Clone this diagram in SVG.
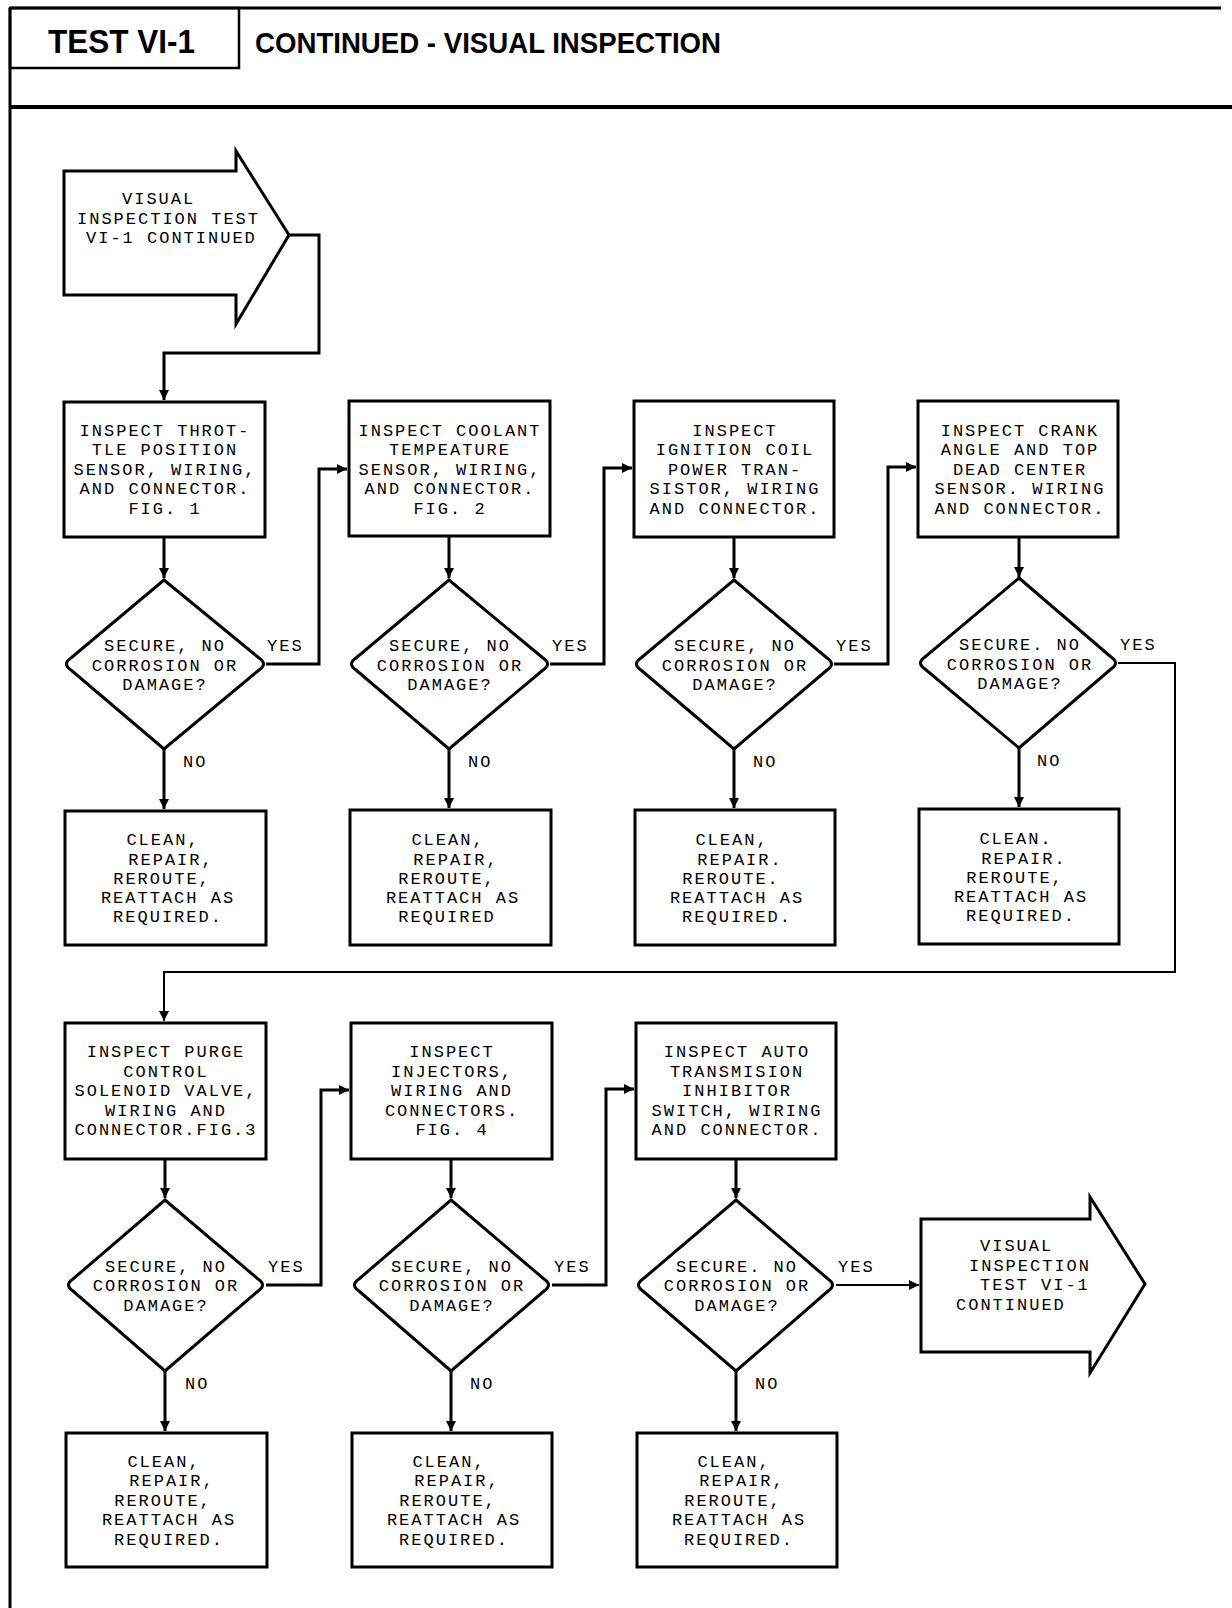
<svg xmlns="http://www.w3.org/2000/svg" width="1232" height="1608" viewBox="0 0 1232 1608">
<defs>
<style>
.bx{fill:#fff;stroke:#000;stroke-width:3}
.ln{fill:none;stroke:#000;stroke-width:3}
.thin{fill:none;stroke:#000;stroke-width:2}
.t{font-family:"Liberation Mono","DejaVu Sans Mono",monospace;font-size:17px;letter-spacing:2px;fill:#000;text-anchor:middle}
.ts{font-family:"Liberation Mono","DejaVu Sans Mono",monospace;font-size:17px;letter-spacing:2px;fill:#000}
.h{font-family:"Liberation Sans",Arial,sans-serif;font-weight:bold;fill:#000}
</style>
<marker id="ah" markerUnits="userSpaceOnUse" markerWidth="10" markerHeight="10" refX="10" refY="5" orient="auto">
<path d="M0,0 L10,5 L0,10 z" fill="#000"/>
</marker>
</defs>
<rect width="1232" height="1608" fill="#fff"/>

<g id="header">
<line x1="10" y1="8" x2="1221" y2="8" class="ln"/>
<line x1="10" y1="8" x2="10" y2="1608" class="ln"/>
<line x1="10" y1="107" x2="1232" y2="107" class="ln" style="stroke-width:4"/>
<rect x="10" y="8" width="229" height="60" fill="none" stroke="#000" stroke-width="2.5"/>
<text x="48" y="53" class="h" font-size="34" textLength="147" lengthAdjust="spacingAndGlyphs">TEST VI-1</text>
<text x="255" y="53" class="h" font-size="30" textLength="466" lengthAdjust="spacingAndGlyphs">CONTINUED - VISUAL INSPECTION</text>
</g>

<g id="connectors">
<path d="M289,235 H319 V353 H164 V400" class="ln" marker-end="url(#ah)"/>
<path d="M164,537 V578" class="ln" marker-end="url(#ah)"/>
<path d="M449,537 V578" class="ln" marker-end="url(#ah)"/>
<path d="M734,537 V578" class="ln" marker-end="url(#ah)"/>
<path d="M1019,537 V577" class="ln" marker-end="url(#ah)"/>
<path d="M164,749 V809" class="ln" marker-end="url(#ah)"/>
<path d="M449,749 V808" class="ln" marker-end="url(#ah)"/>
<path d="M734,749 V808" class="ln" marker-end="url(#ah)"/>
<path d="M1019,748 V807" class="ln" marker-end="url(#ah)"/>
<path d="M266,664 H319 V469 H347" class="ln" marker-end="url(#ah)"/>
<path d="M550,664 H604 V468 H632" class="ln" marker-end="url(#ah)"/>
<path d="M834,664 H888 V467 H916" class="ln" marker-end="url(#ah)"/>
<path d="M1118,663 H1175 V972 H164 V1021" class="thin" marker-end="url(#ah)"/>
<path d="M165,1159 V1198" class="ln" marker-end="url(#ah)"/>
<path d="M451,1159 V1198" class="ln" marker-end="url(#ah)"/>
<path d="M736,1159 V1198" class="ln" marker-end="url(#ah)"/>
<path d="M165,1371 V1431" class="ln" marker-end="url(#ah)"/>
<path d="M451,1371 V1431" class="ln" marker-end="url(#ah)"/>
<path d="M736,1371 V1431" class="ln" marker-end="url(#ah)"/>
<path d="M266,1285 H321 V1090 H349" class="ln" marker-end="url(#ah)"/>
<path d="M552,1285 H606 V1089 H634" class="ln" marker-end="url(#ah)"/>
<path d="M836,1285 H919" class="thin" marker-end="url(#ah)"/>
</g>

<g id="start">
<path d="M64,171 H236 V151 L289,235 L236,324 V295 H64 Z" class="bx"/>
<text class="ts" y="204" x="122">VISUAL</text>
<text class="ts" y="224" x="77">INSPECTION TEST</text>
<text class="ts" y="243" x="86">VI-1 CONTINUED</text>
</g>

<g id="box1">
<rect x="64" y="402" width="201" height="135" class="bx"/>
<text class="t" x="165" y="436">INSPECT THROT-</text>
<text class="t" x="165" y="455">TLE POSITION</text>
<text class="t" x="165" y="475">SENSOR, WIRING,</text>
<text class="t" x="165" y="494">AND CONNECTOR.</text>
<text class="t" x="165" y="514">FIG. 1</text>
</g>
<g id="box2">
<rect x="349" y="401" width="201" height="135" class="bx"/>
<text class="t" x="450" y="436">INSPECT COOLANT</text>
<text class="t" x="450" y="455">TEMPEATURE</text>
<text class="t" x="450" y="475">SENSOR, WIRING,</text>
<text class="t" x="450" y="494">AND CONNECTOR.</text>
<text class="t" x="450" y="514">FIG. 2</text>
</g>
<g id="box3">
<rect x="634" y="401" width="200" height="136" class="bx"/>
<text class="t" x="735" y="436">INSPECT</text>
<text class="t" x="735" y="455">IGNITION COIL</text>
<text class="t" x="735" y="475">POWER TRAN-</text>
<text class="t" x="735" y="494">SISTOR, WIRING</text>
<text class="t" x="735" y="514">AND CONNECTOR.</text>
</g>
<g id="box4">
<rect x="918" y="401" width="200" height="136" class="bx"/>
<text class="t" x="1020" y="436">INSPECT CRANK</text>
<text class="t" x="1020" y="455">ANGLE AND TOP</text>
<text class="t" x="1020" y="475">DEAD CENTER</text>
<text class="t" x="1020" y="494">SENSOR. WIRING</text>
<text class="t" x="1020" y="514">AND CONNECTOR.</text>
</g>

<g id="dec1">
<path d="M164,580 L259,658 Q268,664 259,670 L164,749 L71,670 Q62,664 71,658 Z" class="bx"/>
<text class="t" x="165" y="651">SECURE, NO</text>
<text class="t" x="165" y="671">CORROSION OR</text>
<text class="t" x="165" y="690">DAMAGE?</text>
</g>
<g id="dec2">
<path d="M449,580 L543,658 Q552,664 543,670 L449,749 L356,670 Q347,664 356,658 Z" class="bx"/>
<text class="t" x="450" y="651">SECURE, NO</text>
<text class="t" x="450" y="671">CORROSION OR</text>
<text class="t" x="450" y="690">DAMAGE?</text>
</g>
<g id="dec3">
<path d="M734,580 L827,658 Q836,664 827,670 L734,749 L641,670 Q632,664 641,658 Z" class="bx"/>
<text class="t" x="735" y="651">SECURE, NO</text>
<text class="t" x="735" y="671">CORROSION OR</text>
<text class="t" x="735" y="690">DAMAGE?</text>
</g>
<g id="dec4">
<path d="M1019,578 L1111,657 Q1120,663 1111,669 L1019,748 L925,669 Q916,663 925,657 Z" class="bx"/>
<text class="t" x="1020" y="650">SECURE. NO</text>
<text class="t" x="1020" y="670">CORROSION OR</text>
<text class="t" x="1020" y="689">DAMAGE?</text>
</g>

<g id="labels1">
<text class="ts" x="267" y="651">YES</text>
<text class="ts" x="552" y="651">YES</text>
<text class="ts" x="836" y="651">YES</text>
<text class="ts" x="1120" y="650">YES</text>
<text class="ts" x="183" y="767">NO</text>
<text class="ts" x="468" y="767">NO</text>
<text class="ts" x="753" y="767">NO</text>
<text class="ts" x="1037" y="766">NO</text>
</g>

<g id="fix1">
<rect x="65" y="811" width="201" height="134" class="bx"/>
<text class="t" x="163" y="845">CLEAN,</text>
<text class="t" x="171" y="865">REPAIR,</text>
<text class="t" x="162" y="884">REROUTE,</text>
<text class="t" x="168" y="903">REATTACH AS</text>
<text class="t" x="168" y="922">REQUIRED.</text>
</g>
<g id="fix2">
<rect x="350" y="810" width="201" height="135" class="bx"/>
<text class="t" x="448" y="845">CLEAN,</text>
<text class="t" x="456" y="865">REPAIR,</text>
<text class="t" x="447" y="884">REROUTE,</text>
<text class="t" x="453" y="903">REATTACH AS</text>
<text class="t" x="447" y="922">REQUIRED</text>
</g>
<g id="fix3">
<rect x="635" y="810" width="200" height="135" class="bx"/>
<text class="t" x="732" y="845">CLEAN,</text>
<text class="t" x="740" y="865">REPAIR.</text>
<text class="t" x="731" y="884">REROUTE.</text>
<text class="t" x="737" y="903">REATTACH AS</text>
<text class="t" x="737" y="922">REQUIRED.</text>
</g>
<g id="fix4">
<rect x="919" y="809" width="200" height="135" class="bx"/>
<text class="t" x="1016" y="844">CLEAN.</text>
<text class="t" x="1024" y="864">REPAIR.</text>
<text class="t" x="1015" y="883">REROUTE,</text>
<text class="t" x="1021" y="902">REATTACH AS</text>
<text class="t" x="1021" y="921">REQUIRED.</text>
</g>

<g id="box5">
<rect x="65" y="1023" width="201" height="136" class="bx"/>
<text class="t" x="166" y="1057">INSPECT PURGE</text>
<text class="t" x="166" y="1077">CONTROL</text>
<text class="t" x="166" y="1096">SOLENOID VALVE,</text>
<text class="t" x="166" y="1116">WIRING AND</text>
<text class="t" x="166" y="1135">CONNECTOR.FIG.3</text>
</g>
<g id="box6">
<rect x="351" y="1023" width="201" height="136" class="bx"/>
<text class="t" x="452" y="1057">INSPECT</text>
<text class="t" x="452" y="1077">INJECTORS,</text>
<text class="t" x="452" y="1096">WIRING AND</text>
<text class="t" x="452" y="1116">CONNECTORS.</text>
<text class="t" x="452" y="1135">FIG. 4</text>
</g>
<g id="box7">
<rect x="636" y="1023" width="200" height="136" class="bx"/>
<text class="t" x="737" y="1057">INSPECT AUTO</text>
<text class="t" x="737" y="1077">TRANSMISION</text>
<text class="t" x="737" y="1096">INHIBITOR</text>
<text class="t" x="737" y="1116">SWITCH, WIRING</text>
<text class="t" x="737" y="1135">AND CONNECTOR.</text>
</g>

<g id="dec5">
<path d="M165,1200 L258,1279 Q267,1285 258,1291 L165,1371 L73,1291 Q64,1285 73,1279 Z" class="bx"/>
<text class="t" x="166" y="1272">SECURE, NO</text>
<text class="t" x="166" y="1291">CORROSION OR</text>
<text class="t" x="166" y="1311">DAMAGE?</text>
</g>
<g id="dec6">
<path d="M451,1200 L544,1279 Q553,1285 544,1291 L451,1371 L359,1291 Q350,1285 359,1279 Z" class="bx"/>
<text class="t" x="452" y="1272">SECURE, NO</text>
<text class="t" x="452" y="1291">CORROSION OR</text>
<text class="t" x="452" y="1311">DAMAGE?</text>
</g>
<g id="dec7">
<path d="M736,1200 L828,1279 Q837,1285 828,1291 L736,1371 L643,1291 Q634,1285 643,1279 Z" class="bx"/>
<text class="t" x="737" y="1272">SECURE. NO</text>
<text class="t" x="737" y="1291">CORROSION OR</text>
<text class="t" x="737" y="1311">DAMAGE?</text>
</g>

<g id="labels2">
<text class="ts" x="268" y="1272">YES</text>
<text class="ts" x="554" y="1272">YES</text>
<text class="ts" x="838" y="1272">YES</text>
<text class="ts" x="185" y="1389">NO</text>
<text class="ts" x="470" y="1389">NO</text>
<text class="ts" x="755" y="1389">NO</text>
</g>

<g id="end">
<path d="M921,1219 H1090 V1197 L1145,1284 L1090,1373 V1352 H921 Z" class="bx"/>
<text class="ts" x="980" y="1251">VISUAL</text>
<text class="ts" x="969" y="1271">INSPECTION</text>
<text class="ts" x="980" y="1290">TEST VI-1</text>
<text class="ts" x="956" y="1310">CONTINUED</text>
</g>

<g id="fix5">
<rect x="66" y="1433" width="201" height="134" class="bx"/>
<text class="t" x="164" y="1467">CLEAN,</text>
<text class="t" x="172" y="1486">REPAIR,</text>
<text class="t" x="163" y="1506">REROUTE,</text>
<text class="t" x="169" y="1525">REATTACH AS</text>
<text class="t" x="169" y="1545">REQUIRED.</text>
</g>
<g id="fix6">
<rect x="352" y="1433" width="200" height="134" class="bx"/>
<text class="t" x="449" y="1467">CLEAN,</text>
<text class="t" x="457" y="1486">REPAIR,</text>
<text class="t" x="448" y="1506">REROUTE,</text>
<text class="t" x="454" y="1525">REATTACH AS</text>
<text class="t" x="454" y="1545">REQUIRED.</text>
</g>
<g id="fix7">
<rect x="637" y="1433" width="200" height="134" class="bx"/>
<text class="t" x="734" y="1467">CLEAN,</text>
<text class="t" x="742" y="1486">REPAIR,</text>
<text class="t" x="733" y="1506">REROUTE,</text>
<text class="t" x="739" y="1525">REATTACH AS</text>
<text class="t" x="739" y="1545">REQUIRED.</text>
</g>
</svg>
